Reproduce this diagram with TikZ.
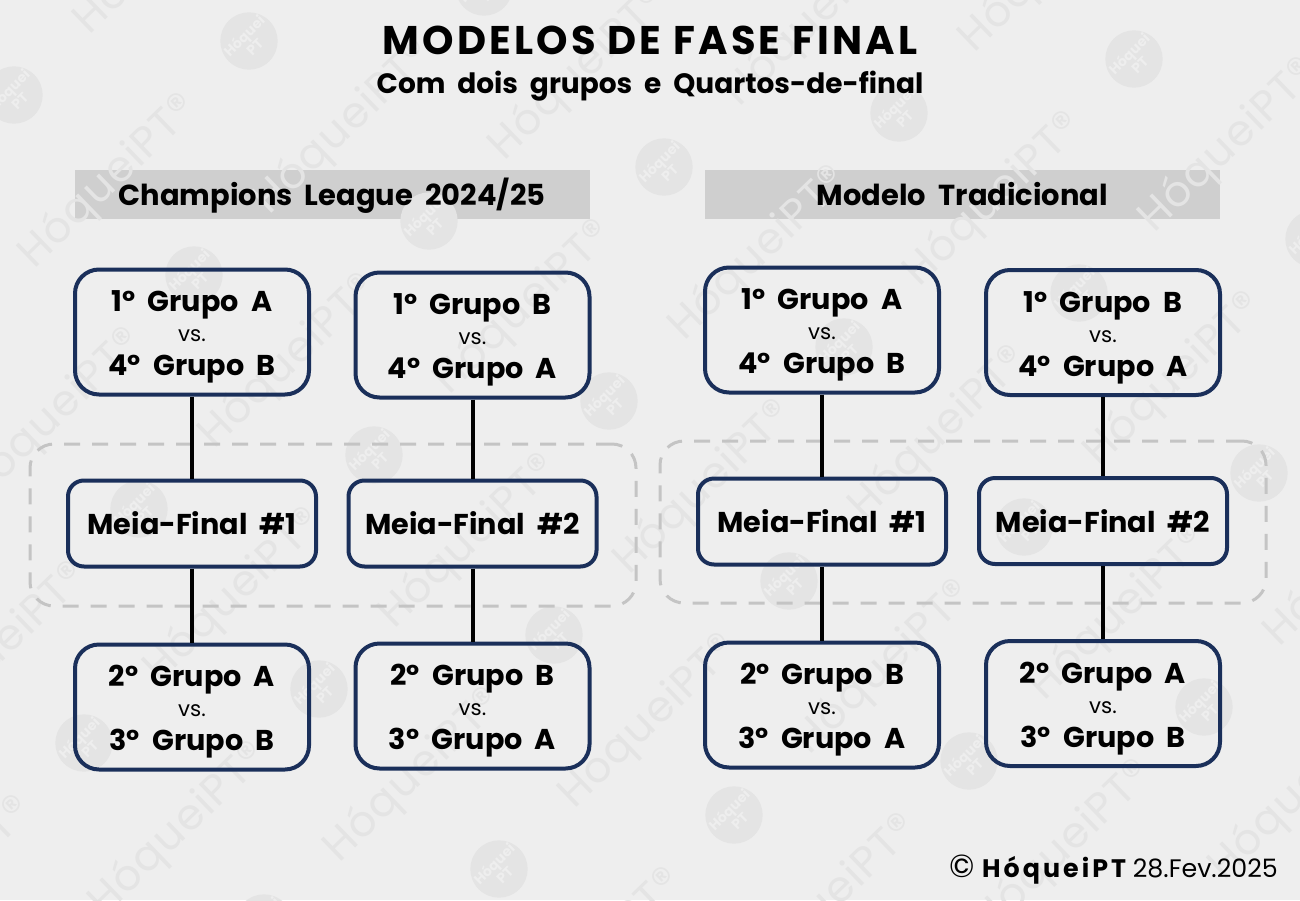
\documentclass[tikz,border=0pt]{standalone}
\usepackage{fontspec}
\setmainfont[WordSpace=2]{Poppins}
\newfontfamily\rodapefont{Poppins}
\usetikzlibrary{calc,positioning}
\definecolor{fundo}{HTML}{EEEEEE}
\definecolor{faixa}{HTML}{CFCFCF}
\definecolor{marca}{HTML}{E4E4E4}
\definecolor{azulc}{HTML}{1A2F5A}
\definecolor{tracos}{HTML}{C4C4C4}
\tikzset{
	x=.75pt, y=-.75pt,
	jogo/.style={
		rectangle,
		rounded corners=18pt,
		draw=azulc, line width=3pt,
		minimum width=175.5pt,
		minimum height=93.75pt,
		align=center,
		font=\fontsize{21.5}{24}\selectfont\bfseries,
		inner sep=0pt},
	meia/.style={
		jogo,
		rounded corners=12pt,
		minimum width=186pt,
		minimum height=64.5pt},
	faixabox/.style={
		rectangle,
		fill=faixa,
		minimum width=386.25pt,
		minimum height=37pt,
		inner sep=0pt},
	faixatxt/.style={font=\fontsize{21.7}{25}\selectfont\bfseries, text height=19pt, text depth=2pt},
	fase/.style={
		rectangle,
		rounded corners=18pt,
		draw=tracos, line width=2.25pt,
		dash pattern=on 12pt off 9pt,
		minimum width=454.5pt,
		minimum height=121.5pt},
	line/.style={draw=black, line width=3pt},
	marcatxt/.style={text=marca, rotate=44, font=\fontsize{32}{32}\selectfont\addfontfeature{LetterSpace=3}},
	marcabola/.style={circle, fill=marca, minimum size=43pt, inner sep=0pt, text=fundo, align=center,
		font=\fontsize{10.5}{9}\selectfont\bfseries},
}
\newcommand{\jogotxt}[2]{\rule{0pt}{23.5pt}#1\\\raisebox{1.5pt}{\fontsize{16}{24}\selectfont\mdseries vs.}\\#2}

\begin{document}
\begin{tikzpicture}
	\fill[fundo] (0,0) rectangle (1300,900);
	\useasboundingbox (0,0) rectangle (1300,900);
	% faixas
	\node[faixabox] (faixaA) at (332,194.5) {};
	\node[faixabox] (faixaB) at (962.5,194.5) {};
	% marca de agua
	\begin{scope}
		\clip (0,0) rectangle (1300,900);
		\foreach \i in {-3,...,6} {
			\foreach \j in {-3,...,5} {
				\pgfmathsetmacro{\bx}{194+235*\i+180*\j}
				\pgfmathsetmacro{\by}{275-54*\i+180*\j}
				\pgfmathtruncatemacro{\dentro}{and(and(\bx>-70,\bx<1480),and(\by>-30,\by<1100))}
				\ifnum\dentro=1
					\node[marcabola, rotate=45] (bola\i\j) at (\bx,\by) {Hóquei\\PT};
					\node[marcatxt] at ($(bola\i\j)+(-85,-93)$) {HóqueiPT®};
				\fi
			}
		}
	\end{scope}
	% titulo
	\node[font=\fontsize{30}{34}\selectfont\rodapefont\bfseries\addfontfeature{LetterSpace=8}] (titulo) at (650,40) {MODELOS DE FASE FINAL};
	\node[font=\fontsize{21}{25}\selectfont\bfseries] (subtitulo) at (650,86) {Com dois grupos e Quartos-de-final};
	\node[faixatxt] at (faixaA) {Champions League 2024/25};
	\node[faixatxt] at (faixaB) {Modelo Tradicional};
	% zonas das meias-finais
	\node[fase] (faseA) at (333,525) {};
	\node[fase] (faseB) at (963,522) {};
	% Champions League
	\node[jogo] (jogoA1) at (192,332) {\jogotxt{1º Grupo A}{4º Grupo B}};
	\node[jogo] (jogoA2) at (472.5,335) {\jogotxt{1º Grupo B}{4º Grupo A}};
	\node[meia, below=61.5pt of jogoA1] (meiaA1) {Meia-Final \#1};
	\node[meia, below=59.25pt of jogoA2] (meiaA2) {Meia-Final \#2};
	\node[jogo, below=55.5pt of meiaA1] (jogoA3) {\jogotxt{2º Grupo A}{3º Grupo B}};
	\node[jogo, below=54.75pt of meiaA2] (jogoA4) {\jogotxt{2º Grupo B}{3º Grupo A}};
	% Modelo Tradicional
	\node[jogo] (jogoB1) at (822,330) {\jogotxt{1º Grupo A}{4º Grupo B}};
	\node[jogo] (jogoB2) at (1103,332.5) {\jogotxt{1º Grupo B}{4º Grupo A}};
	\node[meia, below=61.5pt of jogoB1] (meiaB1) {Meia-Final \#1};
	\node[meia, below=59.25pt of jogoB2] (meiaB2) {Meia-Final \#2};
	\node[jogo, below=55.5pt of meiaB1] (jogoB3) {\jogotxt{2º Grupo B}{3º Grupo A}};
	\node[jogo, below=54.75pt of meiaB2] (jogoB4) {\jogotxt{2º Grupo A}{3º Grupo B}};
	% ligacoes
	\foreach \lado in {A,B} {
		\draw[line] (jogo\lado1) -- (meia\lado1);
		\draw[line] (meia\lado1) -- (jogo\lado3);
		\draw[line] (jogo\lado2) -- (meia\lado2);
		\draw[line] (meia\lado2) -- (jogo\lado4);
	}
	% rodape
	\node[anchor=base east, inner sep=0pt, font=\fontsize{19}{21}\selectfont\rodapefont] (rodape) at (1278,877) {{\fontsize{24}{21}\selectfont ©} {\bfseries\addfontfeature{LetterSpace=12}HóqueiPT} 28.Fev.2025};
\end{tikzpicture}
\end{document}
